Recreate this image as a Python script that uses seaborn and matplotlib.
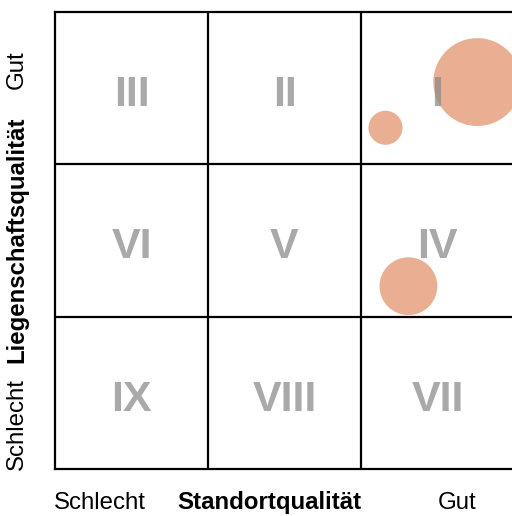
import numpy as np
import pandas as pd
import matplotlib
matplotlib.use("Agg")
import matplotlib.pyplot as plt
import seaborn as sns

# Portfolio-Matrix: Standortqualität (x) vs. Liegenschaftsqualität (y)
standort = [2.76, 2.16, 2.31]
liegenschaft = [2.54, 2.24, 1.20]
volumen = [19.4, 2.9, 8.4]

felder = ["III", "II", "I", "VI", "V", "IV", "IX", "VIII", "VII"]
x_labels = ["Schlecht", "Gut"]
y_labels = ["Schlecht", "Gut"]

df = pd.DataFrame({"standort": standort, "liegenschaft": liegenschaft, "volumen": volumen})

sns.set_style("white")
plt.rcParams['font.family'] = ['Liberation Sans', 'DejaVu Sans']
plt.rcParams['text.color'] = 'black'

fig = plt.figure(figsize=(5.12, 5.16), dpi=100)
ax = fig.add_axes([55/512, 47/516, 459/512, 457/516])

sns.scatterplot(data=df, x="standort", y="liegenschaft", size="volumen",
                sizes=(600, 4000), size_norm=(min(volumen), max(volumen)),
                color="#DC7A4A", alpha=0.6, linewidth=0, legend=False, ax=ax, zorder=2)

# Roemische Ziffern in den Feldern
for i, txt in enumerate(felder):
    row = i // 3
    col = i % 3
    ax.text(col + 0.5, 2.5 - row - 0.045, txt, ha="center", va="center",
            fontsize=31, fontweight="bold", color="#8c8c8c", alpha=0.75, zorder=3)

ax.set_xlim(0, 3)
ax.set_ylim(0, 3)
for v in [1, 2]:
    ax.axvline(v, color="black", lw=1.6, zorder=1)
    ax.axhline(v, color="black", lw=1.6, zorder=1)
for s in ax.spines.values():
    s.set_color("black")
    s.set_linewidth(1.6)
ax.set_xticks([])
ax.set_yticks([])
ax.set_xlabel("")
ax.set_ylabel("")

# Achsenbeschriftungen
fs = 17.3
fig.text(100/512, 1 - 503/516, x_labels[0], ha="center", va="center", fontsize=fs, color="black")
fig.text(269/512, 1 - 503/516, "Standortqualität", ha="center", va="center", fontsize=fs, fontweight="bold", color="black")
fig.text(457/512, 1 - 503/516, x_labels[1], ha="center", va="center", fontsize=fs, color="black")
fig.text(17/512, 1 - 424/516, y_labels[0], ha="center", va="center", fontsize=fs, rotation=90, color="black")
fig.text(17/512, 1 - 240/516, "Liegenschaftsqualität", ha="center", va="center", fontsize=fs, fontweight="bold", rotation=90, color="black")
fig.text(17/512, 1 - 70/516, y_labels[1], ha="center", va="center", fontsize=fs, rotation=90, color="black")

fig.savefig("out.png", dpi=100)
